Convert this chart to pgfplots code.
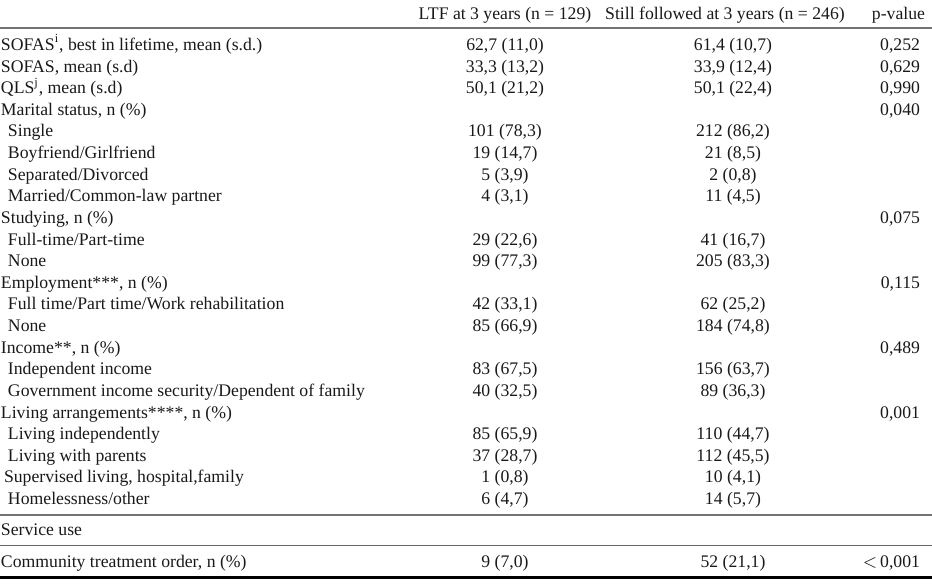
\documentclass[border=0pt]{standalone}
\usepackage{pgfplots}
\pgfplotsset{compat=1.18}
\usepackage{fontspec}
\setmainfont{Liberation Serif}
\newcommand{\rowL}[2]{\node[anchor=base west] at (axis cs:1,#1) {#2};}
\newcommand{\rowS}[2]{\node[anchor=base west] at (axis cs:8,#1) {#2};}
\newcommand{\cA}[2]{\node[anchor=base] at (axis cs:505,#1) {#2};}
\newcommand{\cB}[2]{\node[anchor=base] at (axis cs:733,#1) {#2};}
\newcommand{\cP}[2]{\node[anchor=base east] at (axis cs:920,#1) {#2};}
\begin{document}
\fontsize{8.85}{10.6}\selectfont
\begin{tikzpicture}[every node/.style={inner sep=0pt, outer sep=0pt, font=\fontsize{8.85}{10.6}\selectfont, text=black!90}]
\begin{axis}[
  hide axis, scale only axis,
  width=466pt, height=294pt,
  xmin=0, xmax=932, ymin=0, ymax=588, y dir=reverse,
  clip=false,
]
\coordinate (BL) at (axis cs:0,588);
\coordinate (TR) at (axis cs:932,0);
% rules
\addplot[black!55, line width=0.75pt] coordinates {(0,28) (932,28)};
\addplot[black!55, line width=0.8pt] coordinates {(0,515) (932,515)};
\addplot[black!60, line width=0.5pt] coordinates {(0,545) (932,545)};
\addplot[black, line width=1.3pt] coordinates {(0,577.5) (932,577.5)};
% header
\node[anchor=base] at (axis cs:505,19.5) {LTF at 3 years (n = 129)};
\node[anchor=base] at (axis cs:725,19.5) {Still followed at 3 years (n = 246)};
\node[anchor=base east] at (axis cs:925,19.5) {p-value};
% rows
\rowL{50.5}{SOFAS\textsuperscript{i}, best in lifetime, mean (s.d.)} \cA{50.5}{62,7 (11,0)} \cB{50.5}{61,4 (10,7)} \cP{50.5}{0,252}
\rowL{72.1}{SOFAS, mean (s.d)} \cA{72.1}{33,3 (13,2)} \cB{72.1}{33,9 (12,4)} \cP{72.1}{0,629}
\rowL{93.7}{QLS\textsuperscript{j}, mean (s.d)} \cA{93.7}{50,1 (21,2)} \cB{93.7}{50,1 (22,4)} \cP{93.7}{0,990}
\rowL{115.4}{Marital status, n (\%)} \cP{115.4}{0,040}
\rowS{137.0}{Single} \cA{137.0}{101 (78,3)} \cB{137.0}{212 (86,2)}
\rowS{158.6}{Boyfriend/Girlfriend} \cA{158.6}{19 (14,7)} \cB{158.6}{21 (8,5)}
\rowS{180.2}{Separated/Divorced} \cA{180.2}{5 (3,9)} \cB{180.2}{2 (0,8)}
\rowS{201.8}{Married/Common-law partner} \cA{201.8}{4 (3,1)} \cB{201.8}{11 (4,5)}
\rowL{223.5}{Studying, n (\%)} \cP{223.5}{0,075}
\rowS{245.1}{Full-time/Part-time} \cA{245.1}{29 (22,6)} \cB{245.1}{41 (16,7)}
\rowS{266.7}{None} \cA{266.7}{99 (77,3)} \cB{266.7}{205 (83,3)}
\rowL{288.3}{Employment***, n (\%)} \cP{288.3}{0,115}
\rowS{309.9}{Full time/Part time/Work rehabilitation} \cA{309.9}{42 (33,1)} \cB{309.9}{62 (25,2)}
\rowS{331.6}{None} \cA{331.6}{85 (66,9)} \cB{331.6}{184 (74,8)}
\rowL{353.2}{Income**, n (\%)} \cP{353.2}{0,489}
\rowS{374.8}{Independent income} \cA{374.8}{83 (67,5)} \cB{374.8}{156 (63,7)}
\rowS{396.4}{Government income security/Dependent of family} \cA{396.4}{40 (32,5)} \cB{396.4}{89 (36,3)}
\rowL{418.0}{Living arrangements****, n (\%)} \cP{418.0}{0,001}
\rowS{439.7}{Living independently} \cA{439.7}{85 (65,9)} \cB{439.7}{110 (44,7)}
\rowS{461.3}{Living with parents} \cA{461.3}{37 (28,7)} \cB{461.3}{112 (45,5)}
\node[anchor=base west] at (axis cs:4,482.9) {Supervised living, hospital,family}; \cA{482.9}{1 (0,8)} \cB{482.9}{10 (4,1)}
\rowS{504.5}{Homelessness/other} \cA{504.5}{6 (4,7)} \cB{504.5}{14 (5,7)}
\rowL{535.5}{Service use}
\rowL{567.5}{Community treatment order, n (\%)} \cA{567.5}{9 (7,0)} \cB{567.5}{52 (21,1)} \cP{567.5}{$<$\,0,001}
\end{axis}
\pgfresetboundingbox
\path[use as bounding box] (BL) rectangle (TR);
\end{tikzpicture}
\end{document}
